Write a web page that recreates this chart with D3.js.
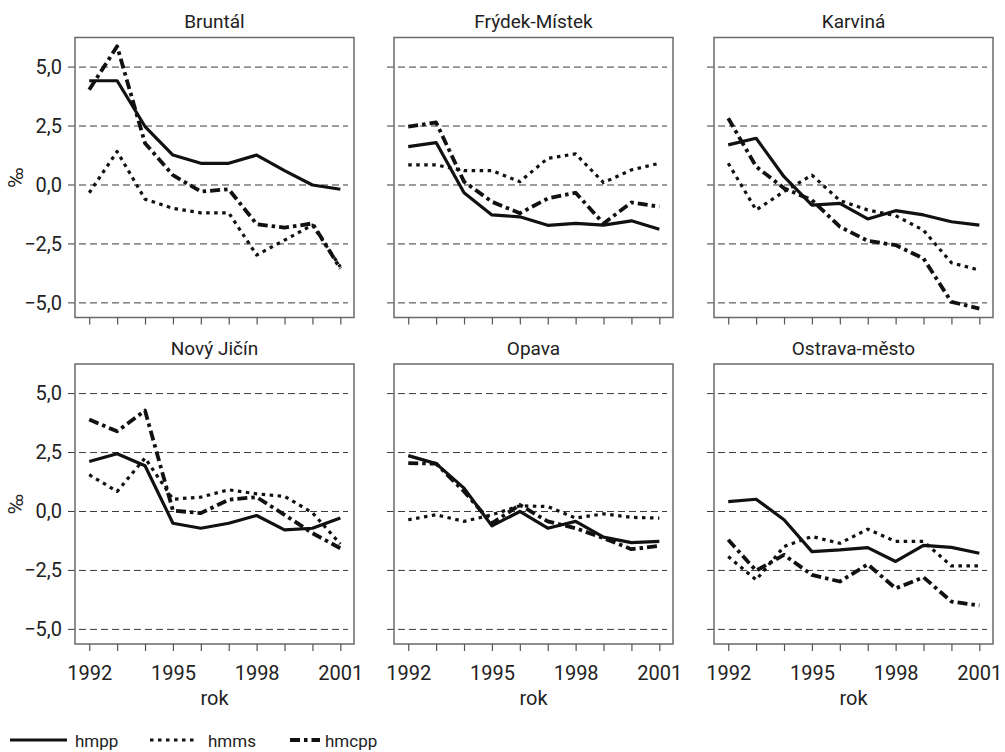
<!DOCTYPE html>
<html>
<head>
<meta charset="utf-8">
<script src="https://cdnjs.cloudflare.com/ajax/libs/d3/7.8.5/d3.min.js"></script>
<style>
  body { margin: 0; background: #fff; }
  svg text { font-family: Roboto, "Liberation Sans", sans-serif; fill: #222; }
</style>
</head>
<body>
<div id="chart"></div>
<script>
// data (per mille)
var years = [1992, 1993, 1994, 1995, 1996, 1997, 1998, 1999, 2000, 2001];
var yearLabels = [1992, 1995, 1998, 2001];
var yTicks = [-5, -2.5, 0, 2.5, 5];
var districts = ["Bruntál", "Frýdek-Místek", "Karviná", "Nový Jičín", "Opava", "Ostrava-město"];

var hmpp = [
  [4.42, 4.42, 2.48, 1.27, 0.92, 0.92, 1.27, 0.61, 0.0, -0.18],
  [1.63, 1.80, -0.33, -1.27, -1.35, -1.71, -1.63, -1.70, -1.52, -1.88],
  [1.70, 1.98, 0.35, -0.85, -0.78, -1.44, -1.09, -1.27, -1.56, -1.70],
  [2.12, 2.45, 1.94, -0.50, -0.71, -0.50, -0.17, -0.78, -0.71, -0.28],
  [2.37, 2.03, 0.99, -0.61, 0.0, -0.71, -0.42, -1.09, -1.32, -1.27],
  [0.42, 0.52, -0.35, -1.70, -1.63, -1.53, -2.12, -1.44, -1.52, -1.77]
];
var hmms = [
  [-0.33, 1.42, -0.60, -0.99, -1.18, -1.18, -2.97, -2.34, -1.70, -3.47],
  [0.85, 0.85, 0.61, 0.61, 0.14, 1.13, 1.32, 0.10, 0.64, 0.92],
  [0.92, -1.06, -0.28, 0.42, -0.66, -1.06, -1.30, -1.92, -3.30, -3.61],
  [1.56, 0.85, 2.27, 0.52, 0.61, 0.92, 0.75, 0.64, -0.05, -1.38],
  [-0.35, -0.14, -0.42, -0.14, 0.24, 0.21, -0.28, -0.10, -0.25, -0.28],
  [-1.91, -2.90, -1.49, -1.06, -1.35, -0.75, -1.27, -1.27, -2.31, -2.31]
];
var hmcpp = [
  [4.04, 5.88, 1.77, 0.42, -0.28, -0.18, -1.66, -1.81, -1.63, -3.54],
  [2.48, 2.65, 0.14, -0.71, -1.20, -0.57, -0.33, -1.63, -0.74, -0.92],
  [2.83, 0.78, -0.14, -0.64, -1.77, -2.37, -2.55, -3.12, -4.96, -5.24],
  [3.90, 3.40, 4.28, 0.04, -0.07, 0.50, 0.61, -0.14, -0.92, -1.56],
  [2.05, 2.03, 0.85, -0.50, 0.28, -0.42, -0.71, -1.13, -1.60, -1.46],
  [-1.20, -2.51, -1.84, -2.69, -2.97, -2.24, -3.26, -2.79, -3.82, -3.99]
];
var seriesNames = ["hmpp", "hmms", "hmcpp"];

var svgWidth = 1005;
var svgHeight = 752;
var panelW = 279;
var panelH = 280;
var lefts = [75, 394, 714];
var tops = [37.5, 364];

var styles = {
  hmpp: {dash: null, width: 3.2},
  hmms: {dash: "3.5,4.5", width: 3.2},
  hmcpp: {dash: "10,4,3.5,4", width: 3.8}
};

var svg = d3.select("#chart").append("svg")
  .attr("width", svgWidth)
  .attr("height", svgHeight);

var x = d3.scaleLinear().domain([1991.49, 2001.49]).range([0, panelW]);
var y = d3.scaleLinear().domain([-5.62, 6.255]).range([panelH, 0]);
var commaFmt = function(d) { return d3.format(".1f")(d).replace(".", ",").replace("-", "\u2212"); };

districts.forEach(function(name, i) {
  var col = i % 3, row = Math.floor(i / 3);
  var g = svg.append("g")
    .attr("transform", "translate(" + lefts[col] + "," + tops[row] + ")");

  // dashed reference lines
  g.selectAll(".grid")
    .data(yTicks)
    .enter()
    .append("line")
    .attr("x1", -7)
    .attr("x2", panelW - 6)
    .attr("y1", function(d) { return y(d); })
    .attr("y2", function(d) { return y(d); })
    .attr("stroke", "#3a3a3a")
    .attr("stroke-width", 1)
    .attr("stroke-dasharray", "7,4");

  // frame
  g.append("rect")
    .attr("width", panelW)
    .attr("height", panelH)
    .attr("fill", "none")
    .attr("stroke", "#6a6a6a")
    .attr("stroke-width", 1.5);

  // x axis
  var xAxis = d3.axisBottom(x)
    .tickValues(years)
    .tickSize(7)
    .tickPadding(14.5)
    .tickFormat(function(d) { return (row == 1 && yearLabels.indexOf(d) >= 0) ? d : ""; });
  var xa = g.append("g")
    .attr("transform", "translate(0," + panelH + ")")
    .call(xAxis);
  xa.select(".domain").remove();
  xa.selectAll("line").attr("stroke", "#555").attr("stroke-width", 1.2);
  xa.selectAll("text").attr("font-size", "20px").attr("fill", "#222");

  // y labels only on the left column
  if (col == 0) {
    var ya = g.append("g").call(d3.axisLeft(y).tickValues(yTicks).tickSize(0).tickPadding(13).tickFormat(commaFmt));
    ya.select(".domain").remove();
    ya.selectAll("text").attr("font-size", "20px").attr("fill", "#222");

    g.append("text")
      .attr("transform", "translate(" + (23 - lefts[0]) + "," + (panelH / 2) + ") rotate(-90)")
      .attr("text-anchor", "middle")
      .attr("font-size", "21px")
      .text("\u2030");
  }

  // title
  g.append("text")
    .attr("x", panelW / 2)
    .attr("y", -9.5)
    .attr("text-anchor", "middle")
    .attr("font-size", "19px")
    .text(name);

  if (row == 1) {
    g.append("text")
      .attr("x", panelW / 2)
      .attr("y", panelH + 61)
      .attr("text-anchor", "middle")
      .attr("font-size", "20px")
      .text("rok");
  }

  var line = d3.line()
    .x(function(d, k) { return x(years[k]); })
    .y(function(d) { return y(d); });

  [hmpp, hmms, hmcpp].forEach(function(series, s) {
    var st = styles[seriesNames[s]];
    g.append("path")
      .datum(series[i])
      .attr("d", line)
      .attr("fill", "none")
      .attr("stroke", "#111")
      .attr("stroke-width", st.width)
      .attr("stroke-linejoin", "round")
      .attr("stroke-dasharray", st.dash);
  });
});

// legend
var legend = [
  {name: "hmpp", x1: 10, x2: 67, tx: 75},
  {name: "hmms", x1: 150, x2: 197, tx: 208},
  {name: "hmcpp", x1: 290, x2: 320, tx: 325}
];
var lg = svg.append("g");
legend.forEach(function(l) {
  var st = styles[l.name];
  lg.append("line")
    .attr("x1", l.x1).attr("x2", l.x2)
    .attr("y1", 740).attr("y2", 740)
    .attr("stroke", "#111")
    .attr("stroke-width", st.width)
    .attr("stroke-dasharray", st.dash);
  lg.append("text")
    .attr("x", l.tx)
    .attr("y", 747)
    .attr("font-size", "17px")
    .text(l.name);
});
</script>
</body>
</html>
